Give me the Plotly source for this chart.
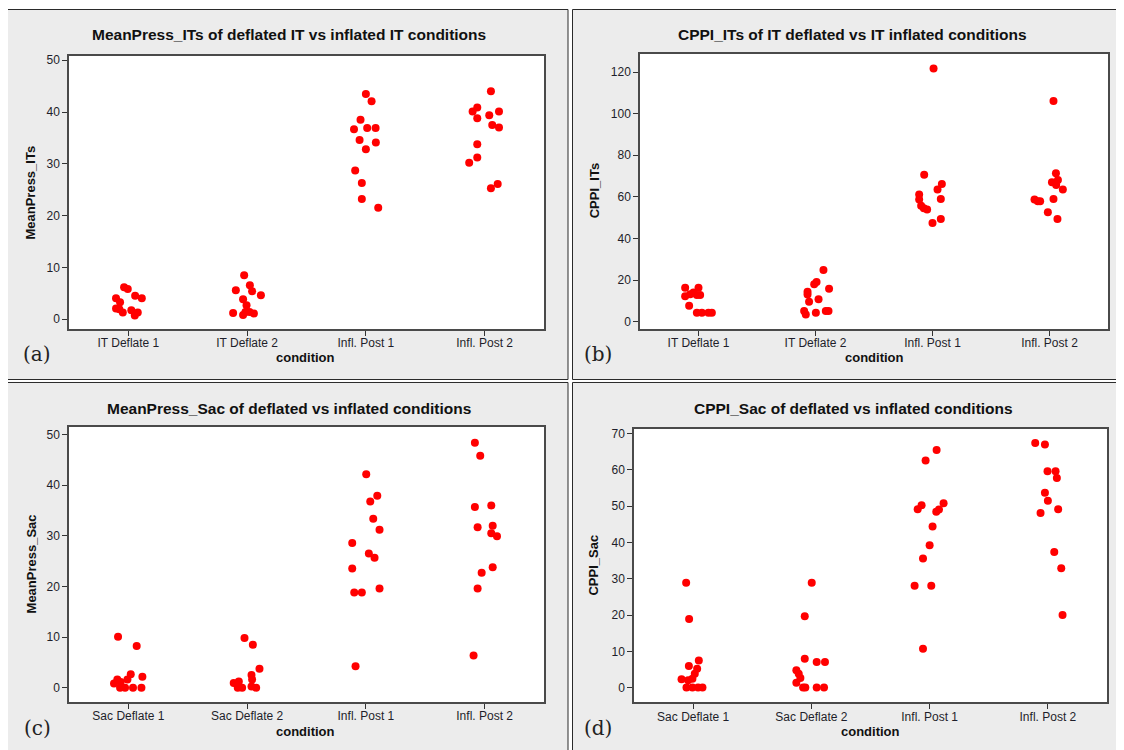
import plotly.graph_objects as go

PAGE_W, PAGE_H = 1124, 750
OFF = 8  # default page body margin; the figure is drawn this far in from the page corner
W, H = PAGE_W - OFF, PAGE_H - OFF

# ---------------- data ----------------
cats_it = ["IT Deflate 1", "IT Deflate 2", "Infl. Post 1", "Infl. Post 2"]
cats_sac = ["Sac Deflate 1", "Sac Deflate 2", "Infl. Post 1", "Infl. Post 2"]

titles = [
    "MeanPress_ITs of deflated IT vs inflated IT conditions",
    "CPPI_ITs of IT deflated vs IT inflated conditions",
    "MeanPress_Sac of deflated vs inflated conditions",
    "CPPI_Sac of deflated vs inflated conditions",
]
y_titles = ["MeanPress_ITs", "CPPI_ITs", "MeanPress_Sac", "CPPI_Sac"]
x_title = "condition"
letters = ["(a)", "(b)", "(c)", "(d)"]

meanpress_its = [
    [6.15, 5.83, 4.54, 4.04, 4.04, 3.27, 2.04, 1.92, 1.27, 1.73, 0.70, 1.27],
    [8.46, 6.54, 5.38, 5.58, 4.6, 3.85, 1.21, 2.69, 1.4, 1.4, 1.1, 0.8],
    [43.5, 42.1, 38.5, 36.7, 36.9, 36.9, 34.6, 34.1, 32.8, 28.7, 26.3, 23.2, 21.5],
    [44.0, 40.9, 40.1, 40.1, 39.4, 38.8, 37.5, 37.0, 33.8, 31.2, 30.2, 25.3, 26.1],
]
meanpress_its_jitter = [
    [-0.036, -0.005, 0.057, 0.113, -0.104, -0.07, -0.104, -0.076, -0.047, 0.025, 0.054, 0.079],
    [-0.025, 0.023, 0.042, -0.095, 0.116, -0.034, -0.118, -0.005, -0.014, 0.02, 0.057, -0.034],
    [0.0, 0.048, -0.045, -0.1, 0.011, 0.082, -0.053, 0.084, 0.0, -0.09, -0.034, -0.034, 0.104],
    [0.053, -0.062, -0.101, 0.121, 0.039, -0.062, 0.064, 0.121, -0.062, -0.062, -0.13, 0.053, 0.11],
]

cppi_its = [
    [16.3, 16.3, 12.3, 13.2, 14.0, 12.8, 12.8, 7.66, 4.3, 4.3, 4.3, 4.3],
    [24.9, 19.1, 18.0, 14.35, 13.1, 15.8, 9.57, 10.8, 5.1, 3.5, 4.3, 5.1, 5.1],
    [121.7, 70.7, 66.2, 63.5, 61.1, 58.7, 59.0, 55.8, 54.5, 53.9, 47.5, 49.4],
    [106.1, 71.4, 67.0, 68.1, 65.7, 63.6, 58.7, 57.9, 57.9, 59.0, 52.6, 49.4],
]
cppi_its_jitter = [
    [-0.114, 0.0, -0.114, -0.071, -0.043, -0.014, 0.014, -0.08, -0.014, 0.029, 0.085, 0.114],
    [0.068, 0.009, -0.011, -0.068, -0.068, 0.116, -0.055, 0.026, -0.097, -0.083, 0.003, 0.088, 0.111],
    [0.009, -0.071, 0.08, 0.043, -0.114, -0.114, 0.071, -0.097, -0.074, -0.046, 0.0, 0.071],
    [0.034, 0.055, 0.021, 0.072, 0.057, 0.114, -0.128, -0.1, -0.08, 0.034, -0.014, 0.068],
]

meanpress_sac = [
    [10.08, 8.25, 2.68, 2.16, 1.64, 1.64, 0.85, 1.11, 0.0, 0.0, 0.0, 0.0],
    [9.82, 8.5, 3.73, 2.49, 1.64, 0.92, 1.24, 0.0, 0.0, 0.26, 0.0],
    [42.15, 37.9, 36.8, 33.4, 31.2, 28.6, 26.5, 25.65, 23.56, 18.8, 18.8, 19.6, 4.25],
    [48.4, 45.8, 35.7, 36.0, 31.7, 32.0, 30.5, 29.9, 22.7, 23.8, 19.6, 6.35],
]
meanpress_sac_jitter = [
    [-0.087, 0.07, 0.02, 0.118, -0.093, -0.008, -0.121, -0.065, -0.07, -0.028, 0.039, 0.11],
    [-0.022, 0.048, 0.104, 0.037, 0.042, -0.113, -0.07, -0.079, -0.042, 0.037, 0.076],
    [0.003, 0.096, 0.037, 0.062, 0.115, -0.115, 0.025, 0.073, -0.115, -0.098, -0.034, 0.115, -0.087],
    [-0.082, -0.037, -0.082, 0.056, -0.059, 0.068, 0.056, 0.104, -0.025, 0.068, -0.059, -0.093],
]

cppi_sac = [
    [28.9, 18.9, 7.5, 5.2, 3.8, 2.47, 5.93, 2.28, 2.0, 0.0, 0.0, 0.0, 0.0],
    [28.9, 19.7, 7.96, 7.04, 7.04, 4.76, 3.84, 2.65, 1.37, 0.0, 0.0, 0.0, 0.0],
    [65.5, 62.6, 49.2, 50.3, 48.5, 49.1, 50.8, 44.4, 39.25, 35.6, 28.1, 28.1, 10.7],
    [67.4, 67.0, 59.65, 59.65, 57.8, 53.7, 51.5, 48.1, 49.2, 37.4, 32.9, 20.0],
]
cppi_sac_jitter = [
    [-0.059, -0.034, 0.048, 0.034, 0.014, -0.006, -0.036, -0.098, -0.042, -0.056, -0.006, 0.042, 0.079],
    [0.003, -0.056, -0.056, 0.045, 0.115, -0.127, -0.107, -0.093, -0.127, -0.07, -0.051, 0.045, 0.107],
    [0.059, -0.034, -0.101, -0.068, 0.056, 0.079, 0.118, 0.025, 0.0, -0.056, -0.127, 0.014, -0.056],
    [-0.107, -0.025, -0.003, 0.065, 0.076, -0.025, 0.0, -0.062, 0.087, 0.054, 0.113, 0.124],
]

y_ranges = [[-1.9, 50.8], [-3.5, 128.9], [-2.8, 51.5], [-4.1, 71.4]]
y_dticks = [10, 20, 10, 10]

# ---------------- layout geometry (page pixels) ----------------
plot_boxes = [  # x0, x1, y0(top), y1(bottom)
    (69, 544, 53.3, 327.3),
    (640, 1108, 50.7, 327.3),
    (69, 544, 425.7, 701.7),
    (634, 1107, 427.3, 702.3),
]
panel_boxes = [
    (7.5, 568, 6.5, 378),
    (572.5, 1121.5, 6.5, 378),
    (7.5, 568, 381, 752),
    (572.5, 1121.5, 381, 752),
]
title_pos = [(289, 32), (852, 32), (289, 407), (853, 407)]
xt_pos = [(305, 356), (874, 356), (305, 731), (870, 731)]
yt_x = [31, 594, 31, 594]
letter_pos = [(37, 352), (598, 352), (37, 728), (598, 728)]


def px(x):
    return (x - OFF) / W


def py(y):
    return 1 - (y - OFF) / H


panels = [
    (cats_it, meanpress_its, meanpress_its_jitter),
    (cats_it, cppi_its, cppi_its_jitter),
    (cats_sac, meanpress_sac, meanpress_sac_jitter),
    (cats_sac, cppi_sac, cppi_sac_jitter),
]

fig = go.Figure()
shapes = []
annotations = []
SANS = "Liberation Sans, Arial, sans-serif"
axis_font = dict(family=SANS, size=12, color="#1e1e2a")

for i, (cats, vals, jit) in enumerate(panels):
    k = "" if i == 0 else str(i + 1)
    xs, ys = [], []
    for ci, (vlist, jlist) in enumerate(zip(vals, jit)):
        for v, j in zip(vlist, jlist):
            xs.append(ci + 1 + j)
            ys.append(v)
    fig.add_trace(go.Scatter(
        x=xs, y=ys, mode="markers", xaxis="x" + k, yaxis="y" + k,
        marker=dict(color="#ff0000", size=8, line=dict(width=0)),
        showlegend=False, hoverinfo="y",
    ))
    x0, x1, y0, y1 = plot_boxes[i]
    fig.layout["xaxis" + k] = dict(
        domain=[px(x0), px(x1)], anchor="y" + k, range=[0.5, 4.5],
        tickmode="array", tickvals=[1, 2, 3, 4], ticktext=cats,
        showgrid=False, zeroline=False, showline=True, mirror=True,
        linecolor="#4a4a4a", linewidth=1.5, ticks="outside", ticklen=5,
        tickcolor="#333333", tickfont=axis_font, fixedrange=True,
        ticklabelstandoff=-3,
    )
    fig.layout["yaxis" + k] = dict(
        domain=[py(y1), py(y0)], anchor="x" + k, range=y_ranges[i],
        dtick=y_dticks[i], tick0=0,
        showgrid=False, zeroline=False, showline=True, mirror=True,
        linecolor="#4a4a4a", linewidth=1.5, ticks="outside", ticklen=5,
        tickcolor="#333333", tickfont=axis_font, fixedrange=True,
    )
    bx0, bx1, by0, by1 = panel_boxes[i]
    shapes.append(dict(
        type="rect", xref="paper", yref="paper", layer="below",
        x0=px(bx0), x1=px(bx1), y0=py(by1), y1=py(by0),
        fillcolor="#ececec", line=dict(color="#2a2a2a", width=1),
    ))
    shapes.append(dict(
        type="rect", xref="paper", yref="paper", layer="below",
        x0=px(x0), x1=px(x1), y0=py(y1), y1=py(y0),
        fillcolor="#ffffff", line=dict(width=0),
    ))
    tx, ty = title_pos[i]
    annotations.append(dict(
        text="<b>" + titles[i] + "</b>", x=px(tx), y=py(ty), xref="paper", yref="paper",
        showarrow=False, xanchor="center", yanchor="middle",
        font=dict(family=SANS, size=15.5, color="#111111"),
    ))
    ax, ay = xt_pos[i]
    annotations.append(dict(
        text="<b>" + x_title + "</b>", x=px(ax), y=py(ay), xref="paper", yref="paper",
        showarrow=False, xanchor="center", yanchor="middle",
        font=dict(family=SANS, size=13, color="#111111"),
    ))
    annotations.append(dict(
        text="<b>" + y_titles[i] + "</b>", x=px(yt_x[i]), y=py((y0 + y1) / 2),
        xref="paper", yref="paper", showarrow=False, textangle=-90,
        xanchor="center", yanchor="middle",
        font=dict(family=SANS, size=13, color="#111111"),
    ))
    lx, ly = letter_pos[i]
    annotations.append(dict(
        text=letters[i], x=px(lx), y=py(ly), xref="paper", yref="paper",
        showarrow=False, xanchor="center", yanchor="middle",
        font=dict(family="DejaVu Serif, serif", size=20, color="#222222"),
    ))

fig.update_layout(
    width=W, height=H, margin=dict(l=0, r=0, t=0, b=0),
    paper_bgcolor="#ffffff", plot_bgcolor="rgba(0,0,0,0)",
    shapes=shapes, annotations=annotations,
)

fig.write_html("out.html")
